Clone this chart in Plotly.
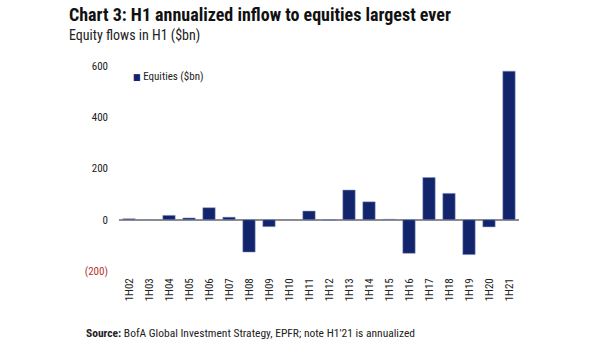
import plotly.graph_objects as go

categories = ["1H02","1H03","1H04","1H05","1H06","1H07","1H08","1H09","1H10","1H11",
              "1H12","1H13","1H14","1H15","1H16","1H17","1H18","1H19","1H20","1H21"]
equities = [4, -1, 17, 7, 47, 10, -126, -27, -1, 34,
            -2, 116, 70, 2, -131, 165, 103, -136, -28, 580]
ytick_vals = [-200, 0, 200, 400, 600]
ytick_text = ["<span style='color:#b5322a'>(200)</span>", "0", "200", "400", "600"]
series_name = "Equities ($bn)"
BAR_COLOR = "#12246b"

FONT = "Liberation Sans Narrow, Roboto Condensed, DejaVu Sans Condensed, Liberation Sans, sans-serif"
L, R, T, B = 119, 519, 66, 271
W, H = 605, 341

def px(x):
    return (x - L) / (R - L)

def py(y):
    return (B - y) / (B - T)

fig = go.Figure()
fig.add_trace(go.Bar(
    x=categories, y=equities, name=series_name, showlegend=False,
    marker=dict(color=BAR_COLOR, line=dict(color="#8f9cc8", width=0.5)),
))

fig.update_layout(
    width=W, height=H,
    margin=dict(l=L, r=W - R, t=T, b=H - B, pad=0),
    paper_bgcolor="white", plot_bgcolor="white",
    bargap=0.38,
    font=dict(family=FONT, color="#222"),
    xaxis=dict(tickangle=-90, tickfont=dict(family=FONT, size=11, color="#222"),
               showline=False, showgrid=False, ticks="", ticklabelstandoff=4,
               range=[-0.5, 19.5]),
    yaxis=dict(range=[-200, 600], tickvals=ytick_vals, ticktext=ytick_text,
               tickfont=dict(family=FONT, size=11, color="#222"),
               showgrid=False, showline=False, zeroline=True,
               zerolinecolor="#8c8c8c", zerolinewidth=1.5, ticks="",
               ticklabelstandoff=10),
    annotations=[
        dict(text="<b>Chart 3: H1 annualized inflow to equities largest ever</b>",
             x=px(67), y=py(2), xref="paper", yref="paper", xanchor="left", yanchor="top",
             showarrow=False, font=dict(family=FONT, size=18, color="#111")),
        dict(text="Equity flows in H1 ($bn)",
             x=px(67), y=py(25), xref="paper", yref="paper", xanchor="left", yanchor="top",
             showarrow=False, font=dict(family=FONT, size=14, color="#222")),
        dict(text=f"<span style='color:{BAR_COLOR}; font-size:9px'>■</span> {series_name}",
             x=px(131), y=py(68), xref="paper", yref="paper", xanchor="left", yanchor="top",
             showarrow=False, font=dict(family=FONT, size=11, color="#222")),
        dict(text="<b>Source:</b> BofA Global Investment Strategy, EPFR; note H1'21 is annualized",
             x=px(84), y=py(324), xref="paper", yref="paper", xanchor="left", yanchor="top",
             showarrow=False, font=dict(family=FONT, size=11.5, color="#222")),
    ],
)

fig.write_html("out.html")
